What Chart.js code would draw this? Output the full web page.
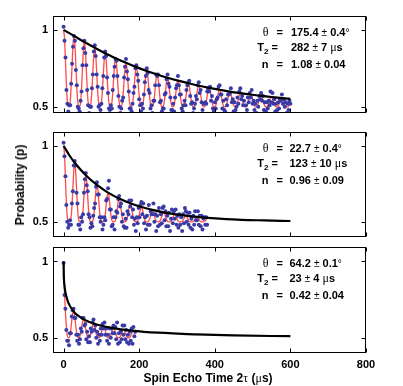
<!DOCTYPE html>
<html><head><meta charset="utf-8">
<script src="https://cdn.jsdelivr.net/npm/chart.js@4.4.0/dist/chart.umd.min.js"></script>
<style>
body{margin:0;background:#fff;}
#wrap{position:relative;width:403px;height:386px;overflow:hidden;font-family:'Liberation Sans',Arial,sans-serif;color:#000;}
canvas{position:absolute;left:0;}
.t{position:absolute;font-weight:bold;font-size:11px;line-height:14px;height:14px;white-space:nowrap;}
.g{font-family:'Liberation Serif','DejaVu Serif',serif;font-weight:normal;font-size:12px;}
.pm{font-weight:normal;font-size:10px;}
.sub{font-size:8px;position:relative;top:3px;}
</style></head>
<body><div id="wrap">
<canvas id="c1" width="403" height="125" style="top:2px"></canvas>
<canvas id="c2" width="403" height="133" style="top:118px"></canvas>
<canvas id="c3" width="403" height="142" style="top:233px"></canvas>
<div id="ylab" style="position:absolute;left:20px;top:184.5px;transform:translate(-50%,-50%) rotate(-90deg);font-weight:bold;font-size:12px;white-space:nowrap;">Probability (p)</div>
<div id="xlab" style="position:absolute;left:208px;top:377.5px;transform:translate(-50%,-50%);font-weight:bold;font-size:12px;white-space:nowrap;">Spin Echo Time 2<span class="g">τ</span> (<span class="g">μ</span>s)</div>
</div>
<script>
// ---------- data ----------
const xTicks = [0, 200, 400, 600, 800];
const yTicks = [0.5, 1];

// Panel 1
const p1T = [0,2.5,5,7.5,10,12.5,15,17.5,20,22.5,25,
27.5,30,32.5,35,37.5,40,42.5,45,47.5,50,52.5,
55,57.5,60,62.5,65,67.5,70,72.5,75,77.5,80,
82.5,85,87.5,90,92.5,95,97.5,100,102.5,105,107.5,
110,112.5,115,117.5,120,122.5,125,127.5,130,132.5,135,
137.5,140,142.5,145,147.5,150,152.5,155,157.5,160,162.5,
165,167.5,170,172.5,175,177.5,180,182.5,185,187.5,190,
192.5,195,197.5,200,202.5,205,207.5,210,212.5,215,217.5,
220,222.5,225,227.5,230,232.5,235,237.5,240,242.5,245,
247.5,250,252.5,255,257.5,260,262.5,265,267.5,270,272.5,
275,277.5,280,282.5,285,287.5,290,292.5,295,297.5,300,
302.5,305,307.5,310,312.5,315,317.5,320,322.5,325,327.5,
330,332.5,335,337.5,340,342.5,345,347.5,350,352.5,355,
357.5,360,362.5,365,367.5,370,372.5,375,377.5,380,382.5,
385,387.5,390,392.5,395,397.5,400,402.5,405,407.5,410,
412.5,415,417.5,420,422.5,425,427.5,430,432.5,435,437.5,
440,442.5,445,447.5,450,452.5,455,457.5,460,462.5,465,
467.5,470,472.5,475,477.5,480,482.5,485,487.5,490,492.5,
495,497.5,500,502.5,505,507.5,510,512.5,515,517.5,520,
522.5,525,527.5,530,532.5,535,537.5,540,542.5,545,547.5,
550,552.5,555,557.5,560,562.5,565,567.5,570,572.5,575,
577.5,580,582.5,585,587.5,590,592.5,595,597.5,600];
const p1Dots = [1.02,0.93,0.82,0.61,0.52,0.47,0.51,0.51,0.65,0.78,0.89,
0.96,0.93,0.74,0.64,0.50,0.49,0.47,0.54,0.60,0.77,0.88,
0.93,0.85,0.77,0.61,0.51,0.46,0.50,0.50,0.62,0.71,0.86,
0.90,0.83,0.71,0.63,0.50,0.51,0.48,0.52,0.62,0.70,0.82,
0.86,0.83,0.69,0.59,0.49,0.48,0.51,0.49,0.61,0.70,0.76,
0.81,0.80,0.70,0.57,0.50,0.46,0.49,0.54,0.56,0.69,0.76,
0.81,0.73,0.68,0.60,0.49,0.49,0.47,0.52,0.59,0.63,0.75,
0.77,0.71,0.67,0.55,0.51,0.47,0.52,0.49,0.58,0.66,0.70,
0.75,0.72,0.61,0.59,0.49,0.51,0.46,0.54,0.54,0.64,0.71,
0.70,0.71,0.64,0.53,0.54,0.47,0.49,0.49,0.58,0.59,0.68,
0.71,0.65,0.63,0.56,0.48,0.48,0.52,0.47,0.56,0.62,0.64,
0.70,0.64,0.58,0.58,0.49,0.47,0.51,0.54,0.51,0.61,0.64,
0.66,0.67,0.57,0.52,0.53,0.46,0.49,0.52,0.57,0.55,0.64,
0.66,0.59,0.61,0.53,0.48,0.52,0.45,0.53,0.52,0.60,0.62,
0.60,0.63,0.54,0.57,0.49,0.47,0.53,0.49,0.55,0.56,0.63,
0.64,0.58,0.58,0.49,0.54,0.48,0.47,0.55,0.51,0.58,0.58,
0.59,0.62,0.53,0.55,0.47,0.53,0.48,0.50,0.56,0.52,0.60,
0.62,0.55,0.57,0.51,0.54,0.45,0.51,0.48,0.56,0.53,0.59,
0.56,0.61,0.52,0.54,0.48,0.52,0.46,0.54,0.50,0.57,0.55,
0.59,0.54,0.57,0.48,0.53,0.47,0.53,0.49,0.54,0.51,0.60,
0.53,0.59,0.52,0.55,0.47,0.52,0.48,0.53,0.49,0.55,0.54,
0.58,0.52,0.55,0.50,0.53,0.46,0.52,0.48,0.54,0.52];
const p1Fit = [1.000,0.942,0.798,0.641,0.536,0.502,0.501,0.533,0.630,0.774,0.907,
0.961,0.907,0.774,0.630,0.533,0.501,0.501,0.530,0.618,0.751,0.872,
0.921,0.872,0.751,0.618,0.530,0.501,0.501,0.528,0.608,0.728,0.839,
0.884,0.839,0.728,0.608,0.528,0.501,0.501,0.525,0.598,0.707,0.807,
0.848,0.807,0.707,0.598,0.525,0.501,0.501,0.523,0.589,0.688,0.779,
0.816,0.779,0.688,0.589,0.523,0.501,0.501,0.521,0.580,0.670,0.752,
0.786,0.752,0.670,0.580,0.521,0.501,0.501,0.519,0.572,0.653,0.728,
0.758,0.728,0.653,0.572,0.519,0.501,0.501,0.517,0.565,0.638,0.705,
0.733,0.705,0.638,0.565,0.517,0.501,0.501,0.515,0.559,0.625,0.685,
0.710,0.685,0.625,0.559,0.515,0.501,0.501,0.514,0.553,0.612,0.667,
0.689,0.667,0.612,0.553,0.514,0.501,0.500,0.512,0.548,0.601,0.650,
0.670,0.650,0.601,0.548,0.512,0.500,0.500,0.511,0.543,0.591,0.635,
0.653,0.635,0.591,0.543,0.511,0.500,0.500,0.510,0.539,0.582,0.621,
0.637,0.621,0.582,0.539,0.510,0.500,0.500,0.509,0.535,0.573,0.609,
0.623,0.609,0.573,0.535,0.509,0.500,0.500,0.508,0.531,0.566,0.598,
0.611,0.598,0.566,0.531,0.508,0.500,0.500,0.507,0.528,0.559,0.588,
0.599,0.588,0.559,0.528,0.507,0.500,0.500,0.506,0.525,0.553,0.579,
0.589,0.579,0.553,0.525,0.506,0.500,0.500,0.506,0.522,0.547,0.570,
0.580,0.570,0.547,0.522,0.506,0.500,0.500,0.505,0.520,0.542,0.563,
0.571,0.563,0.542,0.520,0.505,0.500,0.500,0.505,0.518,0.538,0.556,
0.564,0.556,0.538,0.518,0.505,0.500,0.500,0.504,0.516,0.534,0.551,
0.557,0.551,0.534,0.516,0.504,0.500,0.500,0.504,0.514,0.530];
const p1EnvT = [0,27.5,55,82.5,110,137.5,165,192.5,220,247.5,275,302.5,330,357.5,385,412.5,440,467.5,495,522.5,550,577.5,600];
const p1Env = [1.000,0.961,0.921,0.884,0.848,0.816,0.786,0.758,0.733,0.710,0.689,0.670,0.653,0.637,0.623,0.611,0.599,0.589,0.580,0.571,0.564,0.557,0.552];

// Panel 2
const p2T = [0,2.45,4.9,7.35,9.8,12.25,14.7,17.15,19.6,22.05,24.5,26.95,
29.4,31.85,34.3,36.75,39.2,41.65,44.1,46.55,49,51.45,53.9,56.35,
58.8,61.25,63.7,66.15,68.6,71.05,73.5,75.95,78.4,80.85,83.3,85.75,
88.2,90.65,93.1,95.55,98,100.45,102.9,105.35,107.8,110.25,112.7,115.15,
117.6,120.05,122.5,124.95,127.4,129.85,132.3,134.75,137.2,139.65,142.1,144.55,
147,149.45,151.9,154.35,156.8,159.25,161.7,164.15,166.6,169.05,171.5,173.95,
176.4,178.85,181.3,183.75,186.2,188.65,191.1,193.55,196,198.45,200.9,203.35,
205.8,208.25,210.7,213.15,215.6,218.05,220.5,222.95,225.4,227.85,230.3,232.75,
235.2,237.65,240.1,242.55,245,247.45,249.9,252.35,254.8,257.25,259.7,262.15,
264.6,267.05,269.5,271.95,274.4,276.85,279.3,281.75,284.2,286.65,289.1,291.55,
294,296.45,298.9,301.35,303.8,306.25,308.7,311.15,313.6,316.05,318.5,320.95,
323.4,325.85,328.3,330.75,333.2,335.65,338.1,340.55,343,345.45,347.9,350.35,
352.8,355.25,357.7,360.15,362.6,365.05,367.5,369.95,372.4,374.85,377.3,379.75];
const p2Dots = [1.02,0.93,0.80,0.61,0.50,0.46,0.48,0.51,0.48,0.62,0.70,0.87,
0.90,0.87,0.69,0.62,0.48,0.48,0.45,0.53,0.50,0.55,0.69,0.78,
0.82,0.74,0.70,0.55,0.53,0.46,0.49,0.47,0.54,0.59,0.62,0.73,
0.76,0.68,0.68,0.53,0.50,0.53,0.45,0.48,0.53,0.51,0.64,0.65,
0.72,0.77,0.58,0.58,0.47,0.48,0.53,0.45,0.53,0.57,0.56,0.65,
0.67,0.60,0.62,0.50,0.55,0.47,0.46,0.52,0.46,0.57,0.55,0.64,
0.60,0.64,0.53,0.58,0.48,0.52,0.44,0.53,0.49,0.59,0.53,0.61,
0.63,0.55,0.62,0.49,0.53,0.45,0.54,0.48,0.61,0.48,0.57,0.55,
0.55,0.62,0.50,0.55,0.44,0.54,0.47,0.59,0.48,0.55,0.49,0.59,
0.60,0.51,0.57,0.47,0.54,0.47,0.56,0.44,0.52,0.58,0.49,0.57,
0.52,0.58,0.48,0.54,0.46,0.55,0.48,0.53,0.44,0.55,0.49,0.59,
0.57,0.50,0.56,0.48,0.56,0.46,0.52,0.45,0.54,0.48,0.57,0.51,
0.51,0.57,0.48,0.54,0.47,0.54,0.45,0.52,0.53,0.48,0.53,0.48];
const p2Fit = [1.000,0.936,0.781,0.625,0.531,0.502,0.500,0.502,0.524,0.597,0.718,0.838,
0.888,0.838,0.718,0.597,0.524,0.502,0.500,0.501,0.519,0.576,0.672,0.766,
0.806,0.766,0.672,0.576,0.519,0.501,0.500,0.501,0.515,0.560,0.636,0.711,
0.742,0.711,0.636,0.560,0.515,0.501,0.500,0.501,0.512,0.548,0.608,0.667,
0.692,0.667,0.608,0.548,0.512,0.501,0.500,0.501,0.510,0.538,0.586,0.633,
0.653,0.633,0.586,0.538,0.510,0.501,0.500,0.501,0.508,0.530,0.568,0.606,
0.622,0.606,0.568,0.530,0.508,0.501,0.500,0.500,0.506,0.524,0.555,0.585,
0.597,0.585,0.555,0.524,0.506,0.500,0.500,0.500,0.505,0.519,0.544,0.568,
0.578,0.568,0.544,0.519,0.505,0.500,0.500,0.500,0.504,0.516,0.535,0.554,
0.562,0.554,0.535,0.516,0.504,0.500,0.500,0.500,0.503,0.512,0.528,0.543,
0.550,0.543,0.528,0.512,0.503,0.500,0.500,0.500,0.502,0.510,0.522,0.535,
0.540,0.535,0.522,0.510,0.502,0.500,0.500,0.500,0.502,0.508,0.518,0.528,
0.532,0.528,0.518,0.508,0.502,0.500,0.500,0.500,0.502,0.506,0.514,0.522];
const p2EnvT = [0,14.7,29.4,58.8,88.2,117.6,147,176.4,205.8,235.2,264.6,294,323.4,352.8,382.2,411.6,470.4,530,600];
const p2Env = [1.000,0.939,0.888,0.806,0.742,0.692,0.653,0.622,0.597,0.578,0.562,0.550,0.540,0.532,0.526,0.521,0.513,0.509,0.505];

// Panel 3
const p3T = [0,2.4,4.8,7.2,9.6,12,14.4,16.8,19.2,21.6,24,
26.4,28.8,31.2,33.6,36,38.4,40.8,43.2,45.6,48,50.4,
52.8,55.2,57.6,60,62.4,64.8,67.2,69.6,72,74.4,76.8,
79.2,81.6,84,86.4,88.8,91.2,93.6,96,98.4,100.8,103.2,
105.6,108,110.4,112.8,115.2,117.6,120,122.4,124.8,127.2,129.6,
132,134.4,136.8,139.2,141.6,144,146.4,148.8,151.2,153.6,156,
158.4,160.8,163.2,165.6,168,170.4,172.8,175.2,177.6,180,182.4,
184.8,187.2,189.6];
const p3Dots = [0.99,0.78,0.69,0.55,0.48,0.48,0.45,0.53,0.53,0.64,0.68,
0.69,0.63,0.63,0.52,0.48,0.52,0.46,0.49,0.56,0.54,0.63,
0.63,0.58,0.59,0.49,0.54,0.47,0.51,0.47,0.56,0.54,0.60,
0.62,0.55,0.58,0.50,0.54,0.46,0.52,0.48,0.56,0.52,0.59,
0.56,0.60,0.52,0.56,0.48,0.52,0.46,0.56,0.50,0.56,0.53,
0.58,0.53,0.57,0.49,0.60,0.46,0.53,0.47,0.54,0.49,0.58,
0.52,0.58,0.49,0.55,0.47,0.52,0.46,0.54,0.48,0.56,0.46,
0.57,0.51,0.54];
const p3Fit = [1.000,0.800,0.677,0.576,0.518,0.501,0.501,0.514,0.556,0.612,0.660,
0.673,0.653,0.603,0.549,0.512,0.501,0.500,0.509,0.534,0.572,0.607,
0.621,0.607,0.572,0.534,0.509,0.500,0.500,0.507,0.526,0.555,0.582,
0.593,0.582,0.555,0.526,0.507,0.500,0.500,0.505,0.521,0.545,0.566,
0.575,0.566,0.545,0.521,0.505,0.500,0.500,0.504,0.518,0.537,0.555,
0.562,0.555,0.537,0.518,0.504,0.500,0.500,0.504,0.515,0.531,0.547,
0.553,0.547,0.531,0.515,0.504,0.500,0.500,0.503,0.513,0.527,0.540,
0.545,0.540,0.527];
const p3EnvT = [0,0.5,1,2,4,7,12,20,30,45,65,90,130,180,250,350,450,600];
const p3Env = [1.000,0.909,0.882,0.849,0.810,0.773,0.734,0.695,0.663,0.633,0.606,0.585,0.563,0.547,0.533,0.522,0.515,0.510];

// fit parameters (annotation text)
const thetaVal = ['175.4', '22.7', '64.2'];
const thetaErr = ['0.4', '0.4', '0.1'];
const t2Val = ['282', '123', '23'];
const t2Err = ['7', '10', '4'];
const nVal = ['1.08', '0.96', '0.42'];
const nErr = ['0.04', '0.09', '0.04'];

// ---------- layout ----------
const frameTops = [16, 132, 247];
const frameBottoms = [113, 237, 353];

// ---------- drawing ----------
Chart.defaults.font.family = "'Liberation Sans', Arial, sans-serif";
Chart.defaults.color = '#000';

const pts = (xs, ys) => xs.map((x, i) => ({x: x, y: ys[i]}));

const framePlugin = {
  id: 'frame',
  afterDraw(chart) {
    const {ctx, chartArea: a, scales} = chart;
    const x = scales.x, y = scales.y;
    ctx.save();
    ctx.strokeStyle = '#000';
    ctx.lineWidth = 1;
    const L = Math.round(a.left) + 0.5, R = Math.round(a.right) - 0.5;
    const T = Math.round(a.top) + 0.5, B = Math.round(a.bottom) - 0.5;
    ctx.strokeRect(L, T, R - L, B - T);
    ctx.beginPath();
    x.ticks.forEach(tk => {
      const px = Math.round(x.getPixelForValue(tk.value)) + 0.5;
      ctx.moveTo(px, T); ctx.lineTo(px, T + 4);
      ctx.moveTo(px, B); ctx.lineTo(px, B - 4);
    });
    y.ticks.forEach(tk => {
      const py = Math.round(y.getPixelForValue(tk.value)) + 0.5;
      ctx.moveTo(L, py); ctx.lineTo(L + 4, py);
      ctx.moveTo(R, py); ctx.lineTo(R - 4, py);
    });
    ctx.stroke();
    ctx.restore();
  }
};

function makePanel(id, t, dots, fit, envT, env, yMin, yMax, showX) {
  return new Chart(document.getElementById(id), {
    type: 'scatter',
    data: {
      datasets: [
        {data: pts(envT, env), showLine: true, borderColor: '#000', borderWidth: 2.2,
         pointRadius: 0, cubicInterpolationMode: 'monotone', order: 0},
        {data: pts(t, dots), backgroundColor: '#3a3aa6', borderWidth: 0,
         pointRadius: 2, order: 1},
        {data: pts(t, fit), showLine: true, borderColor: '#ff4a4a', borderWidth: 1.3,
         pointRadius: 0, cubicInterpolationMode: 'monotone', order: 2}
      ]
    },
    options: {
      responsive: false, maintainAspectRatio: false, animation: false, devicePixelRatio: 1,
      layout: {padding: {top: 14, bottom: showX ? 0 : 14, left: 0, right: 37}},
      plugins: {legend: {display: false}, tooltip: {enabled: false}},
      scales: {
        x: {
          type: 'linear', min: -28, max: 800,
          afterBuildTicks: s => { s.ticks = xTicks.map(v => ({value: v})); },
          afterFit: s => { s.height = showX ? 22 : 0; },
          ticks: {display: showX, color: '#000', font: {size: 11, weight: 'bold'},
                  padding: 5, maxRotation: 0, autoSkip: false, callback: v => String(v)},
          grid: {display: false, drawTicks: false},
          border: {display: false}
        },
        y: {
          type: 'linear', min: yMin, max: yMax,
          afterBuildTicks: s => { s.ticks = yTicks.map(v => ({value: v})); },
          afterFit: s => { s.width = 53; },
          ticks: {color: '#000', font: {size: 11, weight: 'bold'}, padding: 5,
                  callback: v => String(v)},
          grid: {display: false, drawTicks: false},
          border: {display: false}
        }
      }
    },
    plugins: [framePlugin]
  });
}

// place a chart so that its plot area sits on the wanted frame
function place(chart, el, top, bottom) {
  const a = chart.chartArea;
  const insetTop = a.top, insetBot = chart.height - a.bottom;
  const want = bottom - top;
  const newH = Math.round(insetTop + want + insetBot);
  el.style.top = (top - insetTop) + 'px';
  if (newH !== chart.height) chart.resize(403, newH);
}

const specs = [
  ['c1', p1T, p1Dots, p1Fit, p1EnvT, p1Env, 0.46, 1.09, false],
  ['c2', p2T, p2Dots, p2Fit, p2EnvT, p2Env, 0.40, 1.09, false],
  ['c3', p3T, p3Dots, p3Fit, p3EnvT, p3Env, 0.40, 1.095, true]
];
specs.forEach((s, i) => {
  const ch = makePanel(...s);
  place(ch, document.getElementById(s[0]), frameTops[i], frameBottoms[i]);
});

// annotation text boxes
const wrap = document.getElementById('wrap');
const valLeft = [291, 289.5, 289.5];
const lineOff = [15.7, 31, 47.6];
function addDiv(html, style) {
  const d = document.createElement('div');
  d.className = 't';
  d.innerHTML = html;
  Object.assign(d.style, style);
  wrap.appendChild(d);
}
for (let p = 0; p < 3; p++) {
  const rows = [
    {lab: '<span class="g">θ</span>', eq: 276.5,
     val: thetaVal[p] + ' <span class="pm">±</span> ' + thetaErr[p] + '<span class="pm">°</span>'},
    {lab: 'T<span class="sub">2</span>', eq: 271.5,
     val: t2Val[p] + ' <span class="pm">±</span> ' + t2Err[p] + ' <span class="g">μ</span>s'},
    {lab: 'n', eq: 276.5,
     val: nVal[p] + ' <span class="pm">±</span> ' + nErr[p]}
  ];
  rows.forEach((r, i) => {
    const top = (frameTops[p] + lineOff[i] - 7) + 'px';
    addDiv(r.lab, {right: (403 - 268.5) + 'px', top: top, textAlign: 'right'});
    addDiv('=', {left: r.eq + 'px', top: top});
    addDiv(r.val, {left: valLeft[p] + 'px', top: top});
  });
}
</script>
</body></html>
